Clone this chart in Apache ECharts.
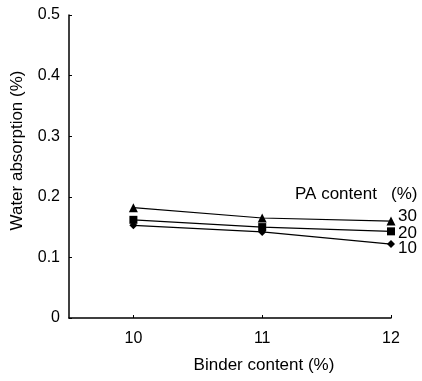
<!DOCTYPE html>
<html>
<head>
<meta charset="utf-8">
<script src="https://cdn.jsdelivr.net/npm/echarts@6/dist/echarts.min.js"></script>
<style>
  html, body {margin: 0; padding: 0; background: #fff;}
  #chart {width: 422px; height: 381px;}
</style>
</head>
<body>
<div id="chart"></div>
<script>
const binder = [10, 11, 12];
const pa30 = [0.182, 0.165, 0.160];
const pa20 = [0.162, 0.150, 0.143];
const pa10 = [0.153, 0.142, 0.122];
const yTicks = [0, 0.1, 0.2, 0.3, 0.4, 0.5];

const chart = echarts.init(document.getElementById('chart'));
const font = 'Liberation Sans, Arial, sans-serif';

const mk = (name, vals, symbol, size, offY) => ({
  name: name,
  type: 'line',
  data: binder.map((b, i) => [b, vals[i]]),
  symbol: symbol,
  symbolSize: size,
  itemStyle: {color: '#000'},
  lineStyle: {color: '#000', width: 1.2},
  endLabel: {
    show: true,
    formatter: name,
    color: '#000',
    fontFamily: font,
    fontSize: 17,
    offset: [-1, offY],
  },
  animation: false,
});

chart.setOption({
  animation: false,
  grid: {left: 69, right: 31, top: 15, bottom: 63},
  xAxis: {
    type: 'value',
    min: 9.5,
    max: 12,
    name: 'Binder content (%)',
    nameLocation: 'middle',
    nameGap: 39,
    nameTextStyle: {color: '#000', fontFamily: font, fontSize: 17, padding: [0, 0, 0, 68]},
    axisLine: {lineStyle: {color: '#000', width: 1.5}},
    axisTick: {show: true, inside: true, length: 3, customValues: binder, lineStyle: {color: '#000'}},
    axisLabel: {customValues: binder, color: '#000', fontFamily: font, fontSize: 16, margin: 13},
    splitLine: {show: false},
  },
  yAxis: {
    type: 'value',
    min: 0,
    max: 0.5,
    interval: 0.1,
    name: 'Water absorption (%)',
    nameLocation: 'middle',
    nameGap: 43,
    nameTextStyle: {color: '#000', fontFamily: font, fontSize: 17, padding: [0, 0, 0, 32]},
    axisLine: {show: true, lineStyle: {color: '#000', width: 1.5}},
    axisTick: {show: true, inside: true, length: 3, lineStyle: {color: '#000'}},
    axisLabel: {
      color: '#000', fontFamily: font, fontSize: 16, margin: 9,
      formatter: v => yTicks.includes(+v.toFixed(1)) ? (v === 0 ? '0' : v.toFixed(1)) : ''
    },
    splitLine: {show: false},
  },
  graphic: [{
    type: 'text',
    left: 295,
    top: 186,
    style: {text: 'PA content   (%)', fill: '#000', font: '17px Liberation Sans, Arial, sans-serif'}
  }],
  series: [
    mk('30', pa30, 'triangle', 9, -5),
    mk('20', pa20, 'rect', 8, 2),
    mk('10', pa10, 'diamond', 8, 4),
  ],
});
</script>
</body>
</html>
